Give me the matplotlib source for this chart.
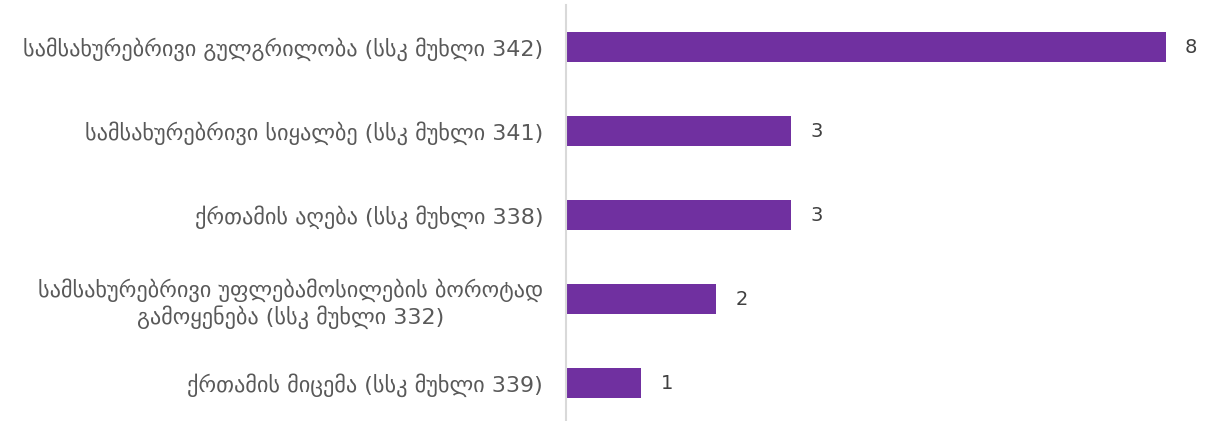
import matplotlib
matplotlib.use("Agg")
import matplotlib.pyplot as plt

categories = [
    "სამსახურებრივი გულგრილობა (სსკ მუხლი 342)",
    "სამსახურებრივი სიყალბე (სსკ მუხლი 341)",
    "ქრთამის აღება (სსკ მუხლი 338)",
    "სამსახურებრივი უფლებამოსილების ბოროტად\nგამოყენება (სსკ მუხლი 332)",
    "ქრთამის მიცემა (სსკ მუხლი 339)",
]
values = [8, 3, 3, 2, 1]

plt.rcParams['font.family'] = ['DejaVu Sans']
fig = plt.figure(figsize=(12.05, 4.21), dpi=100)
ax = fig.add_axes([566/1205, 1 - 420/421, 1 - 566/1205 - 8/1205, 415/421])

y = list(range(len(categories)))
ax.barh(y, values, height=0.36, color="#7030A0")
ax.set_ylim(4.44, -0.5)
ax.set_xlim(0, 8.42)
ax.set_yticks(y)
ax.set_yticklabels(categories, fontsize=16, color="#595959", multialignment="center")
ax.tick_params(axis="y", length=0, pad=16.5)
ax.set_xticks([])
for s in ["top", "right", "bottom"]:
    ax.spines[s].set_visible(False)
ax.spines["left"].set_color("#D9D9D9")
ax.spines["left"].set_linewidth(1.5)
for yi, v in zip(y, values):
    ax.annotate(str(v), (v, yi), xytext=(14, 0), textcoords="offset points",
                va="center", ha="left", fontsize=14, color="#404040")
fig.savefig("out.png", dpi=100)
